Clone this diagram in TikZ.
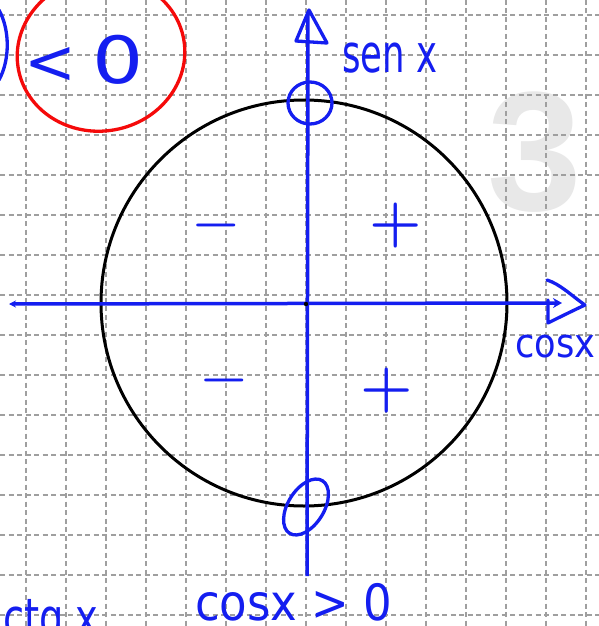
\documentclass[tikz,border=0pt]{standalone}
\usepackage{fontspec}
\usepackage{graphicx}
\newfontfamily\hand{DejaVu Sans}
\newfontfamily\bigfont{Liberation Sans}
\usetikzlibrary{arrows.meta}
\definecolor{pblue}{RGB}{20,30,240}
\definecolor{pred}{RGB}{245,10,10}
\definecolor{ghost}{RGB}{232,232,232}
\begin{document}
\begin{tikzpicture}[x=1pt,y=-1pt,
  gridline/.style={draw=gray!75, line width=1.1pt, dash pattern=on 5pt off 3.5pt},
  axisline/.style={draw=pblue, line width=3.5pt},
  ink/.style={draw=pblue, line width=3.3pt, line cap=round, line join=round},
  lbl/.style={text=pblue, font=\hand, inner sep=0pt, text depth=0pt},
  sign/.style={text=pblue, inner sep=0pt, anchor=base},
]
\useasboundingbox (0,0) rectangle (599,626);
\clip (0,0) rectangle (599,626);
\fill[white] (0,0) rectangle (599,626);
% faint large digit
\node[text=ghost, font=\bigfont\bfseries\fontsize{170}{170}\selectfont, inner sep=0pt, anchor=base] (three) at (535,210) {3};
% grid
\foreach \gx in {26,66,...,586} \draw[gridline] (\gx,0) -- (\gx,626);
\foreach \gy in {15,55,...,615} \draw[gridline] (0,\gy) -- (599,\gy);
% unit circle
\node[circle, draw=black, line width=3pt, minimum size=406pt, inner sep=0pt] (unit) at (304,303) {};
% axes
\coordinate (O) at (306,304);
\coordinate (yb) at (307,576);
\coordinate (yt) at (308,12);
\coordinate (xl) at (9,304);
\coordinate (xr) at (562,303);
\draw[axisline] (yb) -- (yt);
\draw[axisline, arrows={Stealth[length=7pt,width=7pt]-Stealth[length=9pt,width=10pt]}] (xl) -- (xr);
\fill[black] (O) circle (2.2);
% open arrow heads
\coordinate (ya) at (309,10);
\coordinate (yl) at (296,41);
\coordinate (yr) at (327,43);
\draw[ink] (ya) -- (yl) -- (yr) -- cycle;
\coordinate (xa) at (585,305);
\coordinate (xu) at (547,280);
\coordinate (xd) at (548,323);
\draw[ink] (xu) .. controls (560,284) and (572,296) .. (xa) .. controls (570,312) and (558,318) .. (xd) -- (548,300);
% marks on the vertical axis
\coordinate (top) at (310,103);
\coordinate (bot) at (306,507);
\draw[ink] (top) ellipse [x radius=22, y radius=21];
\draw[ink, rotate around={58:(bot)}] (bot) ellipse [x radius=31, y radius=18];
% red ring with "<0"
\coordinate (rc) at (101,54);
\draw[draw=pred, line width=3.3pt, rotate around={10:(rc)}] (rc) ellipse [x radius=84, y radius=77];
\node[lbl, font=\hand\fontsize{62}{62}\selectfont, anchor=base west] (lt) at (24,84) {<\kern16pt\scalebox{1.3}[1.05]{0}};
% fragment at the left edge
\coordinate (fa) at (-1,10);
\coordinate (fb) at (-1,80);
\draw[ink] (fa) .. controls (10,30) and (10,60) .. (fb);
% labels
\node[lbl, font=\hand\fontsize{48}{48}\selectfont, anchor=base west] (sinl) at (342,72) {\scalebox{0.74}[1.1]{sen x}};
\node[lbl, font=\hand\fontsize{40}{40}\selectfont, anchor=base west] (cosl) at (515,357) {\scalebox{0.88}[1]{cosx}};
\node[lbl, font=\hand\fontsize{50}{50}\selectfont, anchor=base west] (cpos) at (195,620) {\scalebox{0.9}[1]{cosx > 0}};
\node[lbl, font=\hand\fontsize{48}{48}\selectfont, anchor=base west] (ctg) at (3,636) {\scalebox{0.8}[1.1]{ctg x}};
% signs
\node[sign, font=\bfseries\fontsize{52}{52}\selectfont] (m1) at (216,238) {−};
\node[sign, font=\bfseries\fontsize{60}{60}\selectfont] (p1) at (396,240) {+};
\node[sign, font=\bfseries\fontsize{52}{52}\selectfont] (m2) at (224,393) {−};
\node[sign, font=\bfseries\fontsize{60}{60}\selectfont] (p2) at (387,405) {+};
\end{tikzpicture}
\end{document}
